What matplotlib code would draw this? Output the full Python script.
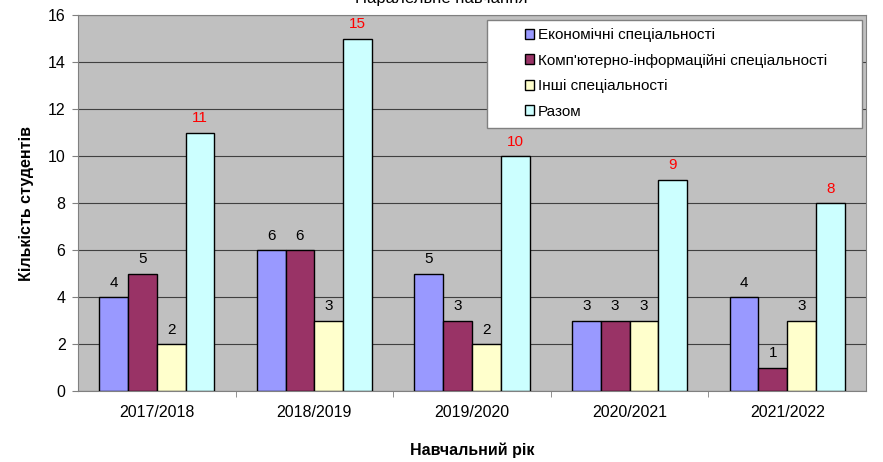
import matplotlib.pyplot as plt
from matplotlib.patches import Rectangle
import numpy as np

plt.rcParams['font.family'] = ['Liberation Sans', 'DejaVu Sans']

years = ['2017/2018', '2018/2019', '2019/2020', '2020/2021', '2021/2022']
econ = [4, 6, 5, 3, 4]
comp = [5, 6, 3, 3, 1]
other = [2, 3, 2, 3, 3]
total = [11, 15, 10, 9, 8]

series = [
    ('Економічні спеціальності', econ, '#9999FF', 'black'),
    ("Комп'ютерно-інформаційні спеціальності", comp, '#993366', 'black'),
    ('Інші спеціальності', other, '#FFFFCC', 'black'),
    ('Разом', total, '#CCFFFF', 'red'),
]

fig = plt.figure(figsize=(8.83, 4.62), dpi=100)
ax = fig.add_axes([78 / 883, 1 - 391 / 462, 788 / 883, 376 / 462])
ax.set_facecolor('#C0C0C0')

x = np.arange(len(years))
w = 0.183
for i, (name, vals, color, lc) in enumerate(series):
    pos = x + (i - 1.5) * w
    bars = ax.bar(pos, vals, w, color=color, edgecolor='black', linewidth=1, label=name, zorder=3)
    for b, v in zip(bars, vals):
        ax.text(b.get_x() + b.get_width() / 2, v + 0.3, str(v), ha='center', va='bottom',
                fontsize=11, color=lc, zorder=4)

ax.set_xlim(-0.5, len(years) - 0.5)
ax.set_ylim(0, 16)
ax.set_yticks(range(0, 17, 2))
ax.yaxis.grid(True, color='#404040', linewidth=0.8, zorder=0)
ax.set_xticks(x)
ax.set_xticklabels(years, fontsize=11.5)
ax.tick_params(axis='x', length=0, pad=10)
ax.set_xticks(np.arange(0.5, len(years) - 0.5, 1), minor=True)
ax.tick_params(axis='x', which='minor', length=4, color='#808080')
ax.tick_params(axis='y', labelsize=11.5, length=4, color='#808080', pad=5)
for s in ax.spines.values():
    s.set_color('#808080')

ax.set_xlabel('Навчальний рік', fontsize=11.5, fontweight='bold', labelpad=16)
ax.set_ylabel('Кількість студентів', fontsize=11.5, fontweight='bold', labelpad=10)

fig.text(0.5, 1.004, 'Паралельне навчання', ha='center', va='center', fontsize=12)

# legend box (wider than the entries, as in the original)
ax.add_patch(Rectangle((0.519, 0.699), 0.476, 0.287, transform=ax.transAxes,
                       facecolor='white', edgecolor='#808080', linewidth=1, zorder=5))
leg = ax.legend(loc='upper left', bbox_to_anchor=(0.567, 0.965), fontsize=11,
                frameon=False, handlelength=0.6, handleheight=0.6, handletextpad=0.25,
                labelspacing=0.75, borderpad=0, borderaxespad=0)
leg.set_zorder(6)

fig.savefig('out.png', dpi=100)
